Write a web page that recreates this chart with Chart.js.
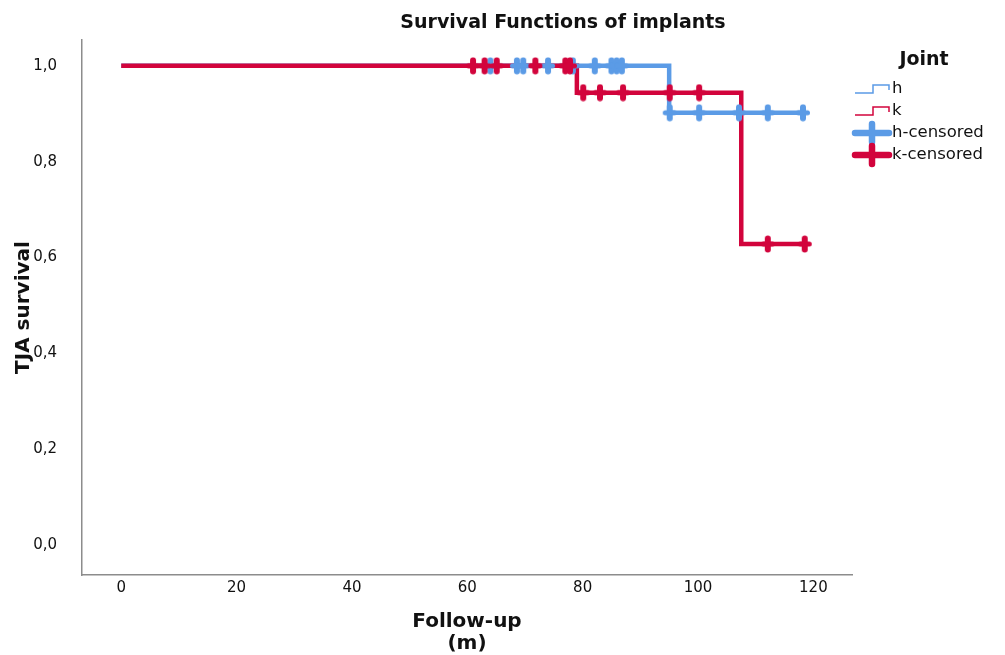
<!DOCTYPE html>
<html>
<head>
<meta charset="utf-8">
<script src="https://cdn.jsdelivr.net/npm/chart.js@4/dist/chart.umd.min.js"></script>
<style>
  html, body { margin: 0; padding: 0; background: #fff; }
  #wrap { width: 1005px; height: 655px; position: relative; }
</style>
</head>
<body>
<div id="wrap"><canvas id="c" width="1005" height="655"></canvas></div>
<script>
// ---- data ----
const chartTitle = "Survival Functions of implants";
const legendTitle = "Joint";
const seriesNames = ["h", "k", "h-censored", "k-censored"];

// Kaplan-Meier step points (time in months, survival)
const hTimes = [0, 95, 118.2];
const hSurvival = [1.0, 0.902, 0.902];
const kTimes = [0, 79, 107.5, 118.5];
const kSurvival = [1.0, 0.944, 0.628, 0.628];

// censored observations
const hCensorTimes = [64, 68.6, 69.7, 74, 78.3, 82.1, 85, 85.9, 86.8, 95.1, 100.2, 107.1, 112.1, 118.2];
const hCensorSurv  = [1, 1, 1, 1, 1, 1, 1, 1, 1, 0.902, 0.902, 0.902, 0.902, 0.902];
const kCensorTimes = [61, 63, 65.1, 71.8, 77, 77.8, 80.1, 83, 87, 95.1, 100.2, 112.1, 118.5];
const kCensorSurv  = [1, 1, 1, 1, 1, 1, 0.944, 0.944, 0.944, 0.944, 0.944, 0.628, 0.628];

const xTicks = [0, 20, 40, 60, 80, 100, 120];
const yTicks = [0, 0.2, 0.4, 0.6, 0.8, 1.0];

// ---- styling ----
const BLUE = "#5b9be6";
const RED = "#d2043c";
const FONT = "DejaVu Sans";

const zip = (xs, ys) => xs.map((x, i) => ({ x: x, y: ys[i] }));

function censorMark(color) {
  const c = document.createElement("canvas");
  c.width = 16; c.height = 18;
  const g = c.getContext("2d");
  g.strokeStyle = color;
  g.lineCap = "round";
  g.lineWidth = 6;
  g.beginPath();
  g.moveTo(8, 3.5); g.lineTo(8, 14.5);
  g.stroke();
  g.lineWidth = 5;
  g.beginPath();
  g.moveTo(3.5, 9); g.lineTo(12.5, 9);
  g.stroke();
  return c;
}

const titlePlugin = {
  id: "customTitle",
  afterDraw(chart) {
    const ctx = chart.ctx;
    ctx.save();
    ctx.fillStyle = "#111";
    ctx.font = "bold 19px '" + FONT + "'";
    ctx.textAlign = "center";
    ctx.textBaseline = "middle";
    ctx.fillText(chartTitle, 563, 23);
    ctx.restore();
  }
};

const legendPlugin = {
  id: "customLegend",
  afterDraw(chart) {
    const ctx = chart.ctx;
    ctx.save();
    ctx.fillStyle = "#111";
    ctx.textBaseline = "middle";
    ctx.font = "bold 19px '" + FONT + "'";
    ctx.textAlign = "center";
    ctx.fillText(legendTitle, 924, 60);
    ctx.font = "16.5px '" + FONT + "'";
    ctx.textAlign = "left";
    const x0 = 855, x1 = 889, tx = 892;
    const rows = [89, 111, 133, 155];
    const cols = [BLUE, RED, BLUE, RED];
    rows.forEach((y, i) => {
      ctx.strokeStyle = cols[i];
      if (i < 2) {
        ctx.lineWidth = 1.5;
        ctx.beginPath();
        ctx.moveTo(x0, y + 4);
        ctx.lineTo(x0 + 18, y + 4);
        ctx.lineTo(x0 + 18, y - 4);
        ctx.lineTo(x1, y - 4);
        ctx.lineTo(x1, y + 1);
        ctx.stroke();
      } else {
        ctx.lineWidth = 6.5;
        ctx.lineCap = "round";
        ctx.beginPath();
        ctx.moveTo(x0, y);
        ctx.lineTo(x1, y);
        ctx.moveTo(x0 + 17, y - 9);
        ctx.lineTo(x0 + 17, y + 9);
        ctx.stroke();
        ctx.lineCap = "butt";
      }
      ctx.fillStyle = "#111";
      ctx.fillText(seriesNames[i], tx, y);
    });
    ctx.restore();
  }
};

const censorStyle = (color, order) => ({
  type: "scatter",
  showLine: false,
  pointStyle: censorMark(color),
  pointRadius: 7,
  pointHoverRadius: 7,
  borderColor: color,
  backgroundColor: color,
  order: order
});

new Chart(document.getElementById("c"), {
  type: "line",
  data: {
    datasets: [
      Object.assign({ label: seriesNames[3], data: zip(kCensorTimes, kCensorSurv) }, censorStyle(RED, 0)),
      Object.assign({ label: seriesNames[2], data: zip(hCensorTimes, hCensorSurv) }, censorStyle(BLUE, 1)),
      { label: seriesNames[1], data: zip(kTimes, kSurvival), stepped: true, borderColor: RED,
        borderWidth: 4.5, pointRadius: 0, fill: false, order: 2 },
      { label: seriesNames[0], data: zip(hTimes, hSurvival), stepped: true, borderColor: BLUE,
        borderWidth: 4.5, pointRadius: 0, fill: false, order: 3 }
    ]
  },
  options: {
    responsive: false,
    animation: false,
    layout: { padding: { top: 40, right: 153, left: 0, bottom: 0 } },
    plugins: { legend: { display: false }, title: { display: false }, tooltip: { enabled: false } },
    scales: {
      x: {
        type: "linear",
        min: -6.8,
        max: 126.7,
        afterBuildTicks: s => { s.ticks = xTicks.map(v => ({ value: v })); },
        afterFit: s => { s.height = 80; },
        grid: { display: false, drawTicks: false },
        border: { display: true, color: "#8c8c8c", width: 1.5 },
        ticks: { color: "#111", font: { family: FONT, size: 15 }, padding: 4, maxRotation: 0 },
        title: { display: true, text: ["Follow-up", "(m)"], color: "#111",
                 font: { family: FONT, size: 20, weight: "bold", lineHeight: 1.1 },
                 padding: { top: 0, bottom: 0 } }
      },
      y: {
        type: "linear",
        min: -0.063,
        max: 1.054,
        afterBuildTicks: s => { s.ticks = yTicks.map(v => ({ value: v })); },
        afterFit: s => { s.width = 82; },
        grid: { display: false, drawTicks: false },
        border: { display: true, color: "#8c8c8c", width: 1.5 },
        ticks: { color: "#111", font: { family: FONT, size: 15 }, padding: 25,
                 callback: v => v.toFixed(1).replace(".", ",") },
        title: { display: true, text: "TJA survival", color: "#111",
                 font: { family: FONT, size: 20, weight: "bold", lineHeight: 1.2 },
                 padding: { top: 12, bottom: 0 } }
      }
    }
  },
  plugins: [titlePlugin, legendPlugin]
});
</script>
</body>
</html>
